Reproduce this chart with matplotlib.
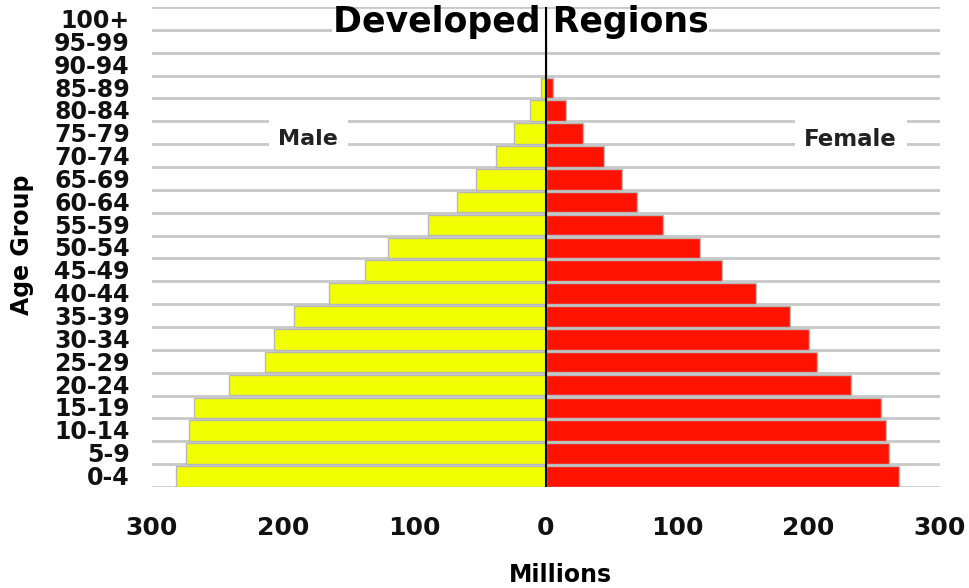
import matplotlib
matplotlib.use("Agg")
import matplotlib.pyplot as plt
from matplotlib.patches import Rectangle
import numpy as np

age_groups = ["0-4", "5-9", "10-14", "15-19", "20-24", "25-29", "30-34", "35-39",
              "40-44", "45-49", "50-54", "55-59", "60-64", "65-69", "70-74",
              "75-79", "80-84", "85-89", "90-94", "95-99", "100+"]
male = [282, 274, 272, 268, 241, 214, 207, 192, 165, 138, 120, 90, 68, 53, 38,
        24, 12, 4, 0, 0, 0]
female = [269, 261, 259, 255, 232, 206, 200, 186, 160, 134, 117, 89, 69, 58, 44,
          28, 15, 5, 0, 0, 0]
xticks = [-300, -200, -100, 0, 100, 200, 300]
xticklabels = ["300", "200", "100", "0", "100", "200", "300"]

plt.rcParams['font.family'] = ['DejaVu Sans']

W, H = 969, 588
fig = plt.figure(figsize=(W / 100, H / 100), dpi=100)
ax = fig.add_axes([152 / W, 1 - 487 / H, (940 - 152) / W, (487 - 7) / H])

y = np.arange(len(age_groups))
bar_h = 0.9
offset = -0.04
ax.barh(y + offset, [-m for m in male], height=bar_h, color="#f2ff00",
        edgecolor="#b8b8b8", linewidth=1, zorder=3)
ax.barh(y + offset, female, height=bar_h, color="#ff1300",
        edgecolor="#b8b8b8", linewidth=1, zorder=3)

ax.set_xlim(-300, 300)
ax.set_ylim(-0.5, len(age_groups) - 0.5)

# gridlines at category boundaries
for b in np.arange(-0.5, len(age_groups) + 0.5, 1.0):
    ax.axhline(b, color="#c8c8c8", linewidth=2, zorder=1)

ax.axvline(0, color="black", linewidth=1.5, zorder=6)

ax.set_yticks(y)
ax.set_yticklabels(age_groups, fontsize=17, fontweight="bold", color="#111111")
ax.set_xticks(xticks)
ax.set_xticklabels(xticklabels, fontsize=18, fontweight="bold", color="#111111")
ax.tick_params(axis="y", length=0, pad=16)
ax.tick_params(axis="x", length=0, pad=21)
for s in ax.spines.values():
    s.set_visible(False)

# title with white mask behind it over the gridline
ax.add_patch(Rectangle((-163, 19.3), 287, 0.4, facecolor="white",
                       edgecolor="none", zorder=2))
ax.text(-19, 19.84, "Developed Regions", fontsize=25, fontweight="bold",
        ha="center", va="center", zorder=5)

# Male / Female labels
ax.text(-181, 14.72, "Male", fontsize=16, fontweight="bold", color="#222222",
        ha="center", va="center", zorder=5,
        bbox=dict(facecolor="white", edgecolor="none", pad=7))
ax.text(232, 14.72, "Female", fontsize=16.5, fontweight="bold", color="#222222",
        ha="center", va="center", zorder=5,
        bbox=dict(facecolor="white", edgecolor="none", pad=7))

fig.text(560 / W, 1 - 575 / H, "Millions", fontsize=17, fontweight="bold",
         ha="center", va="center")
fig.text(22 / W, 1 - 245 / H, "Age Group", fontsize=17, fontweight="bold",
         ha="center", va="center", rotation=90)

fig.savefig("out.png", dpi=100, facecolor="white")
